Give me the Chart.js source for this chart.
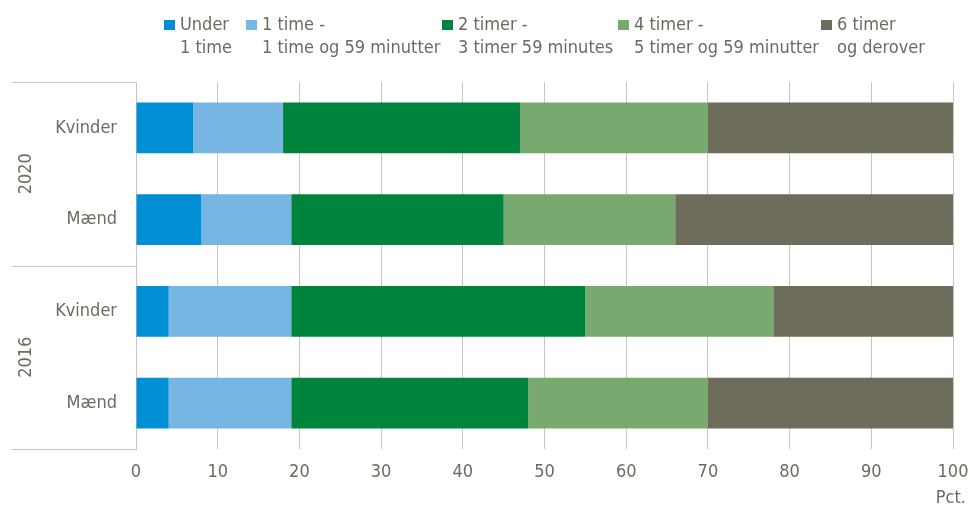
<!DOCTYPE html>
<html>
<head>
<meta charset="utf-8">
<script src="https://cdn.jsdelivr.net/npm/chart.js@4"></script>
<style>
  body { margin: 0; background: #fff; }
  #wrap { position: relative; width: 970px; height: 512px; }
  #legend {
    position: absolute; left: 0; top: 12px; width: 970px;
    font-family: "Liberation Sans Narrow", "Arial Narrow", "DejaVu Sans Condensed", sans-serif;
    font-size: 18px; line-height: 23px; color: #6b6b5e;
  }
  .item { position: absolute; top: 0; display: flex; align-items: flex-start; white-space: nowrap; }
  .box { width: 11px; height: 10px; margin: 8px 5px 0 0; flex: none; }
</style>
</head>
<body>
<div id="wrap">
  <canvas id="chart" width="970" height="512"></canvas>
  <div id="legend"></div>
</div>
<script>
// Data
const groups = ['2020', '2016'];
const categories = ['Kvinder', 'Mænd', 'Kvinder', 'Mænd'];
const seriesNames = [
    ['Under', '1 time'],
    ['1 time -', '1 time og 59 minutter'],
    ['2 timer -', '3 timer 59 minutes'],
    ['4 timer -', '5 timer og 59 minutter'],
    ['6 timer', 'og derover']
];
const under1 = [7, 8, 4, 4];
const from1to2 = [11, 11, 15, 15];
const from2to4 = [29, 26, 36, 29];
const from4to6 = [23, 21, 23, 22];
const over6 = [30, 34, 22, 30];
const colors = ['#008fd5', '#77b5e2', '#00843d', '#78aa70', '#6e6c5b'];
const legendLeft = [164, 246, 442, 618, 821];

const FONT = '"Liberation Sans Narrow", "Arial Narrow", "DejaVu Sans Condensed", sans-serif';
const TEXT = '#6b6b5e';
const GRID = '#c9c6bd';

Chart.defaults.font.family = FONT;
Chart.defaults.font.size = 18;
Chart.defaults.color = TEXT;

// HTML legend (two-line labels)
const legend = document.getElementById('legend');
seriesNames.forEach((lines, i) => {
    const el = document.createElement('div');
    el.className = 'item';
    el.style.left = legendLeft[i] + 'px';
    el.innerHTML = `<span class="box" style="background:${colors[i]}"></span><span>${lines.join('<br>')}</span>`;
    legend.appendChild(el);
});

// Year groups on the left, plus "Pct." unit label
const groupPlugin = {
    id: 'groups',
    afterDraw(chart) {
        const ctx = chart.ctx;
        const y = chart.scales.y;
        const axisX = chart.chartArea.left;
        const per = categories.length / groups.length;
        ctx.save();
        ctx.strokeStyle = GRID;
        ctx.lineWidth = 1;
        for (let g = 0; g <= groups.length; g++) {
            const py = Math.round(y.getPixelForValue(g * per - 0.5)) + 0.5;
            ctx.beginPath();
            ctx.moveTo(12, py);
            ctx.lineTo(axisX, py);
            ctx.stroke();
        }
        ctx.fillStyle = TEXT;
        ctx.font = '18px ' + FONT;
        ctx.textAlign = 'center';
        ctx.textBaseline = 'middle';
        groups.forEach((g, i) => {
            const top = y.getPixelForValue(i * per - 0.5);
            const bottom = y.getPixelForValue((i + 1) * per - 0.5);
            ctx.save();
            ctx.translate(26, (top + bottom) / 2);
            ctx.rotate(-Math.PI / 2);
            ctx.fillText(g, 0, 0);
            ctx.restore();
        });
        ctx.textAlign = 'right';
        ctx.fillText('Pct.', 966, 498);
        ctx.restore();
    }
};

const seriesData = [under1, from1to2, from2to4, from4to6, over6];

new Chart(document.getElementById('chart'), {
    type: 'bar',
    data: {
        labels: categories,
        datasets: seriesData.map((d, i) => ({
            label: seriesNames[i].join(' '),
            data: d,
            backgroundColor: colors[i],
            borderWidth: 0,
            barPercentage: 0.555,
            categoryPercentage: 1
        }))
    },
    options: {
        indexAxis: 'y',
        responsive: false,
        animation: false,
        layout: { padding: { top: 82, right: 17, left: 0, bottom: 0 } },
        plugins: { legend: { display: false }, tooltip: { enabled: false } },
        scales: {
            x: {
                stacked: true,
                min: 0,
                max: 100,
                ticks: { stepSize: 10, padding: 13 },
                grid: { color: GRID, drawTicks: false },
                border: { display: false },
                afterFit: s => { s.height = 63; s.paddingLeft = 0; s.paddingRight = 0; }
            },
            y: {
                stacked: true,
                grid: { display: false, drawTicks: false },
                border: { display: true, color: GRID },
                ticks: { padding: 19 },
                afterFit: s => { s.width = 136; s.paddingTop = 0; s.paddingBottom = 0; }
            }
        }
    },
    plugins: [groupPlugin]
});
</script>
</body>
</html>
